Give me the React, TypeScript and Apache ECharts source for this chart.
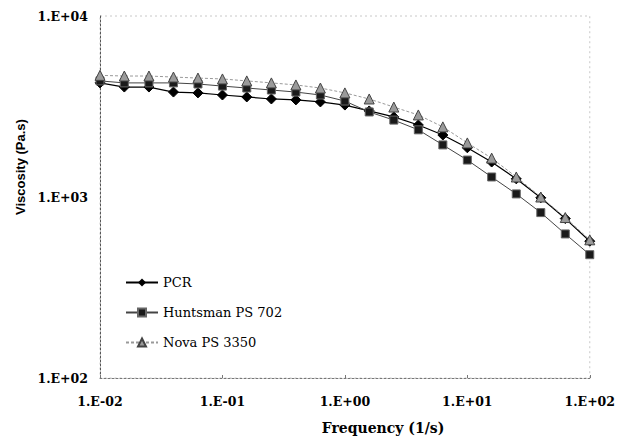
import React, { useEffect, useRef } from "react";
import * as echarts from "echarts";

const frequencies = [
  0.01, 0.0158, 0.0251, 0.0398, 0.0631, 0.1, 0.158, 0.251, 0.398, 0.631, 1,
  1.58, 2.51, 3.98, 6.31, 10, 15.8, 25.1, 39.8, 63.1, 100,
];
const pcr = [
  4270, 4050, 4050, 3800, 3760, 3660, 3570, 3480, 3440, 3350, 3220, 2990, 2770,
  2500, 2200, 1870, 1560, 1260, 990, 760, 570,
];
const huntsman = [
  4380, 4270, 4270, 4270, 4210, 4100, 4000, 3900, 3800, 3660, 3390, 2950, 2660,
  2350, 1940, 1600, 1290, 1040, 820, 625, 480,
];
const nova = [
  4700, 4660, 4660, 4600, 4540, 4490, 4380, 4270, 4160, 4000, 3760, 3480, 3140,
  2840, 2440, 1990, 1640, 1290, 1000, 770, 580,
];
const seriesNames = ["PCR", "Huntsman PS 702", "Nova PS 3350"];
const xTitle = "Frequency (1/s)";
const yTitle = "Viscosity (Pa.s)";

const SERIF = "DejaVu Serif";

const expLabel = (v: number) => {
  const e = Math.round(Math.log10(v));
  const s = e < 0 ? "-" : "+";
  const a = Math.abs(e);
  return "1.E" + s + (a < 10 ? "0" + a : "" + a);
};

export default function App() {
  const ref = useRef<HTMLDivElement>(null);
  useEffect(() => {
    document.body.style.margin = "0";
    if (!ref.current) return;
    const chart = echarts.init(ref.current, null, { renderer: "svg" });
    const pair = (ys: number[]) => frequencies.map((x, i) => [x, ys[i]]);
    const tickFont = {
      fontFamily: SERIF,
      fontWeight: "bold" as const,
      fontSize: 12.5,
      color: "#000",
    };
    chart.setOption({
      animation: false,
      backgroundColor: "#fff",
      grid: {
        left: 100,
        right: 27,
        top: 16,
        bottom: 62,
        show: true,
        borderColor: "#c8c8c8",
        borderWidth: 1,
        borderType: [2, 3],
      },
      legend: {
        orient: "vertical",
        left: 120,
        top: 271,
        itemWidth: 32,
        itemHeight: 10,
        itemGap: 17,
        textStyle: {
          fontFamily: SERIF,
          fontSize: 13,
          color: "#000",
        },
        data: seriesNames,
      },
      xAxis: {
        type: "log",
        logBase: 10,
        min: 0.01,
        max: 100,
        axisLine: {
          show: true,
          lineStyle: { color: "#777", type: [2, 2], width: 1 },
        },
        axisTick: { show: true, inside: true, length: 3, lineStyle: { color: "#777" } },
        minorTick: { show: false },
        splitLine: { show: false },
        axisLabel: { ...tickFont, margin: 17, formatter: expLabel },
      },
      yAxis: {
        type: "log",
        logBase: 10,
        min: 100,
        max: 10000,
        axisLine: {
          show: true,
          lineStyle: { color: "#555", type: [2, 2], width: 1 },
        },
        axisTick: { show: false },
        splitLine: { show: false },
        axisLabel: { ...tickFont, margin: 12, formatter: expLabel },
      },
      graphic: [
        {
          type: "text",
          x: 383,
          y: 428,
          style: {
            text: xTitle,
            fontFamily: SERIF,
            fontWeight: "bold",
            fontSize: 14,
            fill: "#000",
            textAlign: "center",
            textVerticalAlign: "middle",
          },
        },
        {
          type: "text",
          x: 20,
          y: 167,
          rotation: Math.PI / 2,
          style: {
            text: yTitle,
            fontFamily: "Liberation Sans",
            fontWeight: "bold",
            fontSize: 13,
            fill: "#000",
            textAlign: "center",
            textVerticalAlign: "middle",
          },
        },
      ],
      series: [
        {
          name: seriesNames[0],
          type: "line",
          data: pair(pcr),
          symbol: "diamond",
          symbolSize: 10,
          lineStyle: { color: "#000", width: 1.2 },
          itemStyle: { color: "#000", borderColor: "#000" },
        },
        {
          name: seriesNames[1],
          type: "line",
          data: pair(huntsman),
          symbol: "rect",
          symbolSize: 8,
          lineStyle: { color: "#444", width: 1 },
          itemStyle: { color: "#1a1a1a", borderColor: "#666", borderWidth: 1 },
        },
        {
          name: seriesNames[2],
          type: "line",
          data: pair(nova),
          symbol: "triangle",
          symbolSize: 10,
          lineStyle: { color: "#999", width: 1, type: [3, 2] },
          itemStyle: { color: "#9a9a9a", borderColor: "#444", borderWidth: 1 },
        },
      ],
    });
    return () => chart.dispose();
  }, []);
  return <div ref={ref} style={{ width: 618, height: 440 }} />;
}
